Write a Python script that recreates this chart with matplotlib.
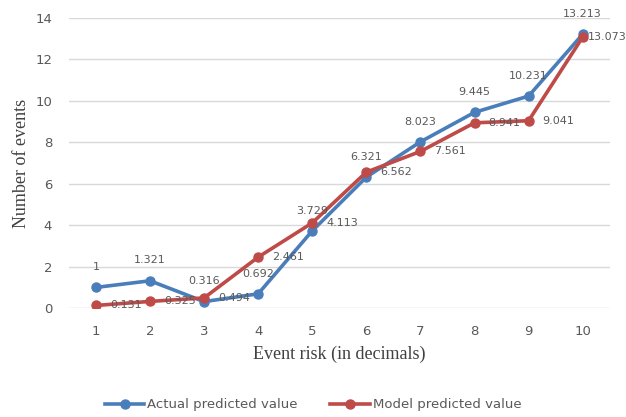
import matplotlib.pyplot as plt

# Data
risk = [1, 2, 3, 4, 5, 6, 7, 8, 9, 10]
actual = [1, 1.321, 0.316, 0.692, 3.729, 6.321, 8.023, 9.445, 10.231, 13.213]
model = [0.131, 0.325, 0.494, 2.461, 4.113, 6.562, 7.561, 8.941, 9.041, 13.073]

blue = "#4a7ebb"
red = "#be4b48"
grey = "#595959"

fig = plt.figure(figsize=(6.26, 4.17), dpi=100)
ax = fig.add_axes([0.110, 0.261, 0.864, 0.696])

ax.plot(risk, actual, color=blue, lw=2.6, marker="o", ms=6.5, label="Actual predicted value", zorder=3)
ax.plot(risk, model, color=red, lw=2.6, marker="o", ms=6.5, label="Model predicted value", zorder=3)

# popisky dat
for x, y in zip(risk, actual):
    ax.annotate(f"{y:g}", (x, y), xytext=(0, 11), textcoords="offset points",
                ha="center", va="bottom", fontsize=8, color=grey)
for x, y in zip(risk, model):
    dx = 10 if x < risk[-1] else 4  # posledni popisek se jinak nevejde
    ax.annotate(f"{y:g}", (x, y), xytext=(dx, 0), textcoords="offset points",
                ha="left", va="center", fontsize=8, color=grey)

ax.set_xlim(0.5, 10.5)
ax.set_ylim(0, 14)
ax.set_xticks(risk)
ax.set_yticks(range(0, 15, 2))
ax.grid(axis="y", color="#d9d9d9", lw=1)
ax.set_axisbelow(True)
for s in ax.spines.values():
    s.set_visible(False)
ax.tick_params(length=0, labelsize=9.5, colors=grey)
ax.tick_params(axis="x", pad=12)
ax.tick_params(axis="y", pad=12)

ax.set_xlabel("Event risk (in decimals)", family="Liberation Serif", fontsize=13, color="#404040", labelpad=6)
ax.set_ylabel("Number of events", family="Liberation Serif", fontsize=13, color="#404040", labelpad=4)

fig.legend(loc="lower center", bbox_to_anchor=(0.5, -0.015), ncol=2, frameon=False,
           fontsize=9.5, labelcolor=grey, handlelength=3, columnspacing=2.5, handletextpad=0.2)

plt.savefig("out.png", dpi=100)
